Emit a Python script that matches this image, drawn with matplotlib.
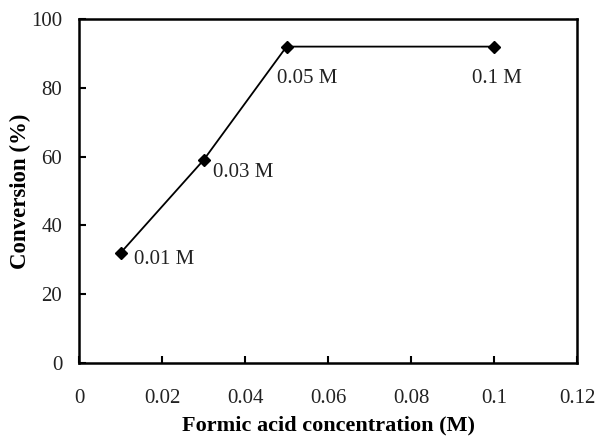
import matplotlib.pyplot as plt

plt.rcParams['font.family'] = ['Liberation Serif', 'DejaVu Serif']

# data
conc = [0.01, 0.03, 0.05, 0.1]
conversion = [32, 59, 92, 92]
point_labels = ["0.01 M", "0.03 M", "0.05 M", "0.1 M"]
# label offsets from the marker, in pixels
label_offsets = [(13, -7), (9, -12), (-10, -32), (-22, -32)]

fig = plt.figure(figsize=(5.96, 4.37), dpi=100)
ax = fig.add_axes([0.1326, 0.1693, 0.8356, 0.787])

ax.plot(conc, conversion, color="black", linewidth=1.3, marker="D", markersize=6)

for x, y, lab, off in zip(conc, conversion, point_labels, label_offsets):
    ax.annotate(lab, (x, y), xytext=off, textcoords="offset pixels",
                ha="left", va="center", fontsize=15, color="#222222")

ax.set_xlim(0, 0.12)
ax.set_ylim(0, 100)
ax.set_xticks([0, 0.02, 0.04, 0.06, 0.08, 0.1, 0.12])
ax.set_xticklabels(["0", "0.02", "0.04", "0.06", "0.08", "0.1", "0.12"])
ax.set_yticks([0, 20, 40, 60, 80, 100])
ax.tick_params(direction="in", length=5, width=1.5, labelsize=15, labelcolor="#222222")
ax.tick_params(axis="x", pad=19)
ax.tick_params(axis="y", pad=12)
for s in ax.spines.values():
    s.set_linewidth(1.8)

ax.set_xlabel("Formic acid concentration (M)", fontsize=16, fontweight="bold", labelpad=5)
ax.set_ylabel("Conversion (%)", fontsize=16.5, fontweight="bold", labelpad=0)

fig.savefig("out.png", dpi=100)
